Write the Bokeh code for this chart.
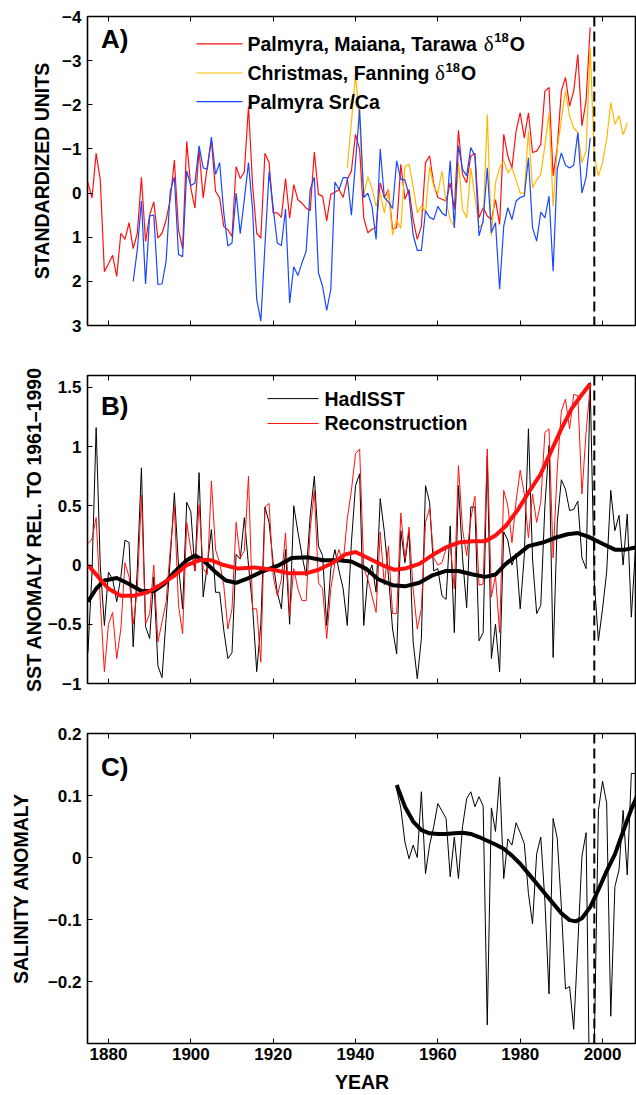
from bokeh.plotting import figure
from bokeh.models import Range1d, FixedTicker, LinearAxis, Span, Label
from bokeh.layouts import column
from bokeh.embed import file_html
from bokeh.resources import INLINE

# ---------------- data ----------------
x_ticks = [1880, 1900, 1920, 1940, 1960, 1980, 2000]
year_label = "YEAR"

# Panel A (standardized units, axis reversed)
red_a_start = 1875
red_a = [
    -0.24, 0.11, -0.9, -0.3, 1.78,
    1.6, 1.41, 1.89, 0.91, 1.05,
    0.67, 1.26, 0.91, -0.36, 1.1,
    0.5, 0.2, 1.02, 0.91, 0.61,
    0.15, -0.75, 0.83, 1.26, -1.17,
    -0.11, 0.34, -0.98, 0.11, -0.6,
    -1.2, -0.04, 0.11, 0.76, 0.83,
    0.98, -0.6, -0.33, -0.48, -1.96,
    -0.19, 0.91, 1.02, -0.9, -0.69,
    0.45, 0.45, 0.55, -0.33, 0.57,
    -0.19, 0.15, 0.23, 0.34, 0.4,
    -0.93, 0.03, 0.07, 0.63, 0.03,
    -0.02, -0.08, 0.1, -0.31, -0.5,
    -1.33, -0.99, 0.56, 0.9, 0.82,
    0.78, -0.23, 0.1, -0.08, 0.82,
    0.78, -0.65, 0.14, -0.08, 0.6,
    1.05, 0.75, -0.69, -0.84, -0.2,
    0.1, 0.14, 0.18, -0.23, 0.37,
    -1.42, -0.42, -0.23, -0.84, -0.9,
    0.56, 0.33, 0.52, 0.6, 0.15,
    0.71, -1.33, -0.84, -0.57, -1.4,
    -1.82, -1.25, -1.82, -0.92, -0.95,
    -1.1, -2.31, -2.39, -0.39, -1.03,
    -2.31, -2.62, -1.97, -2.31, -3.14,
    -1.52, -2.09, -3.75,
]
yellow_a_start = 1938
yellow_a = [
    -0.57, -1.6,
    -2.7, -1.6, 0.05, -0.37, -0.1,
    0.3, 0.0, 0.45, -0.07, 0.95,
    0.6, 0.8, -0.6, -0.65, -0.15,
    0.45, 0.3, 0.42, -0.6, -0.15,
    0.0, -0.5, 0.2, 0.6, 0.75,
    -0.7, 0.37, 0.56, -0.57, 0.1,
    0.79, 0.67, -1.78, 0.97, -0.23,
    -0.57, -0.73, -0.46, -0.57, -0.3,
    0.0, 0.0, -1.4, -0.12, -0.3,
    -0.42, -1.07, -1.82, 0.3, -0.99,
    -1.67, -2.31, -1.74, -1.48, -1.37,
    -0.69, -0.95, -3.3, -0.84, -0.39,
    -0.69, -1.22, -2.05, -1.56, -1.75,
    -1.32, -1.58,
]
blue_a_start = 1886
blue_a = [
    2.0, 1.28, 0.18, 2.06,
    0.52, 0.5, 2.07, 2.06, 1.54,
    -0.05, -0.36, 1.39, 1.44, -0.5,
    -0.17, -0.23, -1.07, -0.57, -0.54,
    -1.27, -0.42, -0.69, 0.45, 1.2,
    1.13, 0.0, 0.92, 0.14, -0.69,
    0.37, 2.41, 2.9, 1.2, -0.48,
    0.33, 1.13, 1.19, 0.36, 2.49,
    1.67, 1.87, 1.58, 1.32, -0.08,
    -0.36, 1.81, 2.11, 2.66, 2.18,
    -0.25, -0.08, -0.35, -0.35, 0.5,
    -0.7, -1.9, 0.1, 0.0, 0.3,
    1.05, -1.0, 0.1, 0.2, 0.35,
    -0.73, -0.31, -0.3, 0.05, 0.95,
    1.3, 1.3, 0.4, 0.55, 0.6,
    0.3, 0.45, 0.52, -0.73, 0.79,
    -1.07, -0.54, -0.39, -1.03, -0.84,
    0.97, 0.63, -0.57, 0.9, 0.67,
    2.18, 0.75, 0.33, 0.6, 0.18,
    0.1, 0.07, -0.8, 0.79, 1.09,
    0.43, 0.56, 0.07, 1.77, -0.54,
    -0.91, -0.63, -0.57, -0.63, -1.37,
    0.0, -0.35, -1.25,
]
a_ticks = [-4, -3, -2, -1, 0, 1, 2, 3]
a_labels = ["\u22124", "\u22123", "\u22122", "\u22121", "0", "1", "2", "3"]
a_legend = ["Palmyra, Maiana, Tarawa ", "Christmas, Fanning ", "Palmyra Sr/Ca"]
a_legend_delta = [True, True, False]

# Panel B (SST anomaly)
had_start = 1875
hadisst = [
    -0.74, -0.06, 1.16, 0.0, -0.51,
    -0.06, -0.12, -0.31, -0.1, 0.21,
    0.19, -0.69, -0.03, 0.82, -0.52,
    -0.62, -0.1, -0.85, -0.95, -0.45,
    0.05, 0.61, 0.0, -0.37, 0.53,
    0.45, -0.05, 0.78, -0.27, 0.0,
    0.3, -0.23, -0.23, -0.55, -0.79,
    -0.74, 0.09, 0.05, 0.4, 0.0,
    -0.35, -0.9, -0.5, 0.49, 0.36,
    0.02, -0.23, -0.37, 0.13, -0.5,
    0.5, 0.28, 0.08, -0.09, 0.42,
    0.75, 0.16, 0.08, -0.51, -0.03,
    0.13, -0.05, -0.2, -0.51, 0.19,
    0.67, 0.77, -0.51, -0.09, 0.0,
    -0.23, 0.56, 0.28, -0.09, -0.54,
    -0.75, 0.29, 0.02, 0.28, -0.65,
    -0.96, -0.62, 0.67, 0.53, -0.05,
    -0.03, -0.26, -0.29, 0.33, -0.57,
    0.67, 0.06, -0.36, 0.49, 0.49,
    -0.64, -0.57, 0.92, -0.79, -0.5,
    -0.9, 0.28, 0.21, 0.0, 0.1,
    -0.37, 0.08, 1.15, 0.05, -0.41,
    -0.34, 0.5, 1.01, -0.78, 0.36,
    0.72, 0.64, 0.46, 0.47, 0.54,
    0.06, -0.03, 1.54, -0.14, -0.64,
    -0.37, -0.06, 0.63, 0.29, 0.42,
    0.0, 0.43, -0.44, 0.14,
]
rec_start = 1875
recon = [
    0.18, 0.22, 0.4, -0.3, -0.9,
    -0.5, -0.4, -0.79, -0.54, 0.02,
    -0.1, -0.5, -0.2, 0.59, -0.5,
    -0.41, 0.0, -0.65, -0.48, -0.31,
    0.13, 0.5, -0.34, -0.58, 0.36,
    0.13, -0.05, 0.51, -0.03, -0.08,
    0.71, 0.13, 0.02, -0.17, -0.54,
    -0.37, 0.36, 0.06, 0.12, 0.75,
    -0.37, -0.37, -0.82, 0.49, 0.52,
    -0.09, -0.26, -0.12, 0.27, -0.43,
    -0.03, -0.2, -0.3, -0.3, 0.3,
    0.63, -0.15, -0.2, -0.62, -0.2,
    0.02, 0.13, 0.02, 0.39, 0.63,
    0.94, 0.98, -0.03, -0.12, -0.26,
    -0.4, 0.28, -0.17, 0.16, -0.41,
    -0.41, 0.44, 0.05, 0.32, -0.2,
    -0.54, -0.37, 0.36, 0.48, 0.06,
    0.0, 0.02, 0.14, 0.18, -0.2,
    0.84, 0.3, 0.08, 0.39, 0.58,
    -0.17, -0.16, 0.98, -0.27, -0.09,
    -0.57, 0.63, 0.5, 0.19, 0.54,
    0.8, 0.6, 0.23, 0.6, 0.36,
    0.53, 1.12, 1.15, 0.06, 0.81,
    1.3, 1.4, 1.15, 1.44, 1.43,
    0.6, 1.12, 1.51,
]
had_smooth_years = [1875, 1877, 1879, 1882, 1885, 1888, 1891, 1893.5, 1896, 1899,
                    1901, 1903, 1906, 1908.5, 1911, 1914, 1917, 1920, 1921.5, 1924.5,
                    1928.5, 1932, 1936, 1939, 1942.5, 1945.5, 1949, 1952, 1955.5, 1958.5,
                    1962, 1965, 1968.5, 1971.5, 1974, 1976.5, 1979.5, 1982, 1985.5, 1988.5,
                    1991.5, 1994, 1996.5, 2000, 2003, 2005.5, 2008.3]
had_smooth = [-0.31, -0.2, -0.13, -0.11, -0.16, -0.22, -0.22, -0.16, -0.06, 0.04,
              0.08, 0.04, -0.06, -0.13, -0.15, -0.11, -0.06, -0.02, 0.0, 0.06,
              0.065, 0.04, 0.04, 0.03, -0.03, -0.12, -0.17, -0.18, -0.15, -0.09,
              -0.05, -0.05, -0.08, -0.1, -0.08, 0.01, 0.09, 0.16, 0.19, 0.23,
              0.26, 0.27, 0.24, 0.18, 0.13, 0.13, 0.15]
rec_smooth_years = [1875, 1877.5, 1880, 1883, 1886, 1889.5, 1892.5, 1896, 1899, 1902.5,
                    1905, 1908, 1911.5, 1915.5, 1920, 1924, 1928, 1931, 1934.5, 1937.5,
                    1940, 1943, 1946.5, 1949.5, 1952, 1955.5, 1958.5, 1962, 1965, 1968.5,
                    1971.5, 1974, 1976.5, 1979.5, 1982, 1985, 1987.5, 1990, 1992.5, 1995,
                    1997]
rec_smooth = [0.0, -0.1, -0.2, -0.26, -0.26, -0.23, -0.17, -0.09, 0.0, 0.045,
              0.04, 0.0, -0.03, -0.02, -0.04, -0.07, -0.07, -0.04, 0.02, 0.09,
              0.11, 0.06, 0.0, -0.04, -0.03, 0.01, 0.08, 0.15, 0.19, 0.2,
              0.2, 0.25, 0.33, 0.47, 0.61, 0.77, 0.96, 1.15, 1.32, 1.44,
              1.53]
b_ticks = [-1, -0.5, 0, 0.5, 1, 1.5]
b_labels = ["\u22121", "\u22120.5", "0", "0.5", "1", "1.5"]
b_legend = ["HadISST", "Reconstruction"]

# Panel C (salinity anomaly)
sal_start = 1950
salinity = [
    0.11, 0.08, 0.025, -0.002, 0.02,
    0.0, 0.106, -0.026, 0.02, 0.05,
    0.087, 0.075, 0.063, -0.031, 0.033,
    -0.034, 0.05, 0.095, 0.106, 0.082,
    0.098, 0.083, -0.27, 0.08, 0.042,
    0.13, -0.034, 0.03, 0.02, 0.056,
    0.04, 0.022, -0.058, -0.107, 0.006,
    0.033, -0.07, -0.22, 0.063, 0.031,
    -0.08, -0.212, -0.208, -0.277, -0.14,
    0.002, 0.04, -0.45, -0.3, 0.076,
    0.123, 0.088, -0.256, -0.047, -0.02,
    0.076, -0.028, 0.136, 0.135,
]
sal_smooth_years = [1950, 1952, 1954, 1956, 1958, 1960, 1962, 1964, 1966, 1968,
                    1970, 1972, 1974, 1976, 1978, 1980, 1982, 1984, 1986, 1988,
                    1990, 1992, 1993.5, 1995, 1997, 1999, 2001, 2003, 2005, 2007, 2008.3]
sal_smooth = [0.117, 0.082, 0.058, 0.044, 0.039, 0.038, 0.038, 0.039, 0.04, 0.038,
              0.033, 0.027, 0.021, 0.014, 0.003, -0.01, -0.026, -0.042, -0.058, -0.074,
              -0.09, -0.101, -0.103, -0.098, -0.08, -0.052, -0.022, 0.005, 0.042, 0.078, 0.098]
c_ticks = [-0.2, -0.1, 0, 0.1, 0.2]
c_labels = ["\u22120.2", "\u22120.1", "0", "0.1", "0.2"]

cutoff_year = 1998

# ---------------- style ----------------
FONT = "Liberation Sans"
SERIF = "Liberation Serif"
RED = "#ff1010"
YEL = "#ffb800"
BLUE = "#1748ff"
X0, X1 = 1874.9, 2008.25
FRAME_W = 549
PX_PER_YEAR = FRAME_W / (X1 - X0)
LEG_SIZE = 19.5
AX_SIZE = "19.5px"

# Arial/Liberation Sans Bold advance widths (per 1000 em) for legend layout
BOLD_W = {"P": 667, "a": 556, "l": 278, "m": 889, "y": 556, "r": 389, ",": 278, " ": 278,
          "M": 833, "i": 278, "n": 611, "T": 611, "w": 778, "C": 722, "h": 611, "s": 556,
          "t": 333, "F": 611, "g": 611, "S": 667, "/": 278}


def text_px(s, size):
    return sum(BOLD_W.get(ch, 600) for ch in s) * size / 1000.0


def yrs(start, vals):
    return list(range(start, start + len(vals)))


def make_fig(height, top, bottom, yr, yticks, ylabels, ylabel, show_x, ylab_standoff):
    p = figure(width=636, height=height, output_backend="svg", toolbar_location=None,
               x_range=Range1d(X0, X1), y_range=yr,
               min_border_left=87, min_border_right=0,
               min_border_top=top, min_border_bottom=bottom)
    p.xgrid.visible = False
    p.ygrid.visible = False
    p.outline_line_color = "black"
    p.outline_line_width = 1.6
    p.background_fill_color = "white"
    p.border_fill_color = "white"

    xa = p.xaxis[0]
    xa.ticker = FixedTicker(ticks=x_ticks)
    xa.major_tick_in = 5
    xa.major_tick_out = 0
    xa.minor_tick_line_color = None
    xa.axis_line_color = None
    xa.major_tick_line_color = "black"
    if show_x:
        xa.major_label_text_font = FONT
        xa.major_label_text_font_size = "17px"
        xa.major_label_text_font_style = "bold"
        xa.major_label_text_color = "black"
        xa.major_label_standoff = 4
        xa.axis_label = year_label
        xa.axis_label_text_font = FONT
        xa.axis_label_text_font_size = AX_SIZE
        xa.axis_label_text_font_style = "bold"
        xa.axis_label_text_color = "black"
        xa.axis_label_standoff = 8
    else:
        xa.major_label_overrides = {t: "" for t in x_ticks}
        xa.major_label_text_font_size = "0px"
        xa.major_label_standoff = 0

    top_ax = LinearAxis(ticker=FixedTicker(ticks=x_ticks),
                        major_label_overrides={t: "" for t in x_ticks},
                        major_label_text_font_size="0px", major_label_standoff=0,
                        major_tick_in=5, major_tick_out=0,
                        minor_tick_line_color=None, axis_line_color=None)
    p.add_layout(top_ax, "above")

    ya = p.yaxis[0]
    ya.ticker = FixedTicker(ticks=yticks)
    ya.major_label_overrides = dict(zip(yticks, ylabels))
    ya.major_tick_in = 5
    ya.major_tick_out = 0
    ya.minor_tick_line_color = None
    ya.axis_line_color = None
    ya.major_label_text_font = FONT
    ya.major_label_text_font_size = "17px"
    ya.major_label_text_font_style = "bold"
    ya.major_label_text_color = "black"
    ya.major_label_standoff = 6
    ya.axis_label = ylabel
    ya.axis_label_text_font = FONT
    ya.axis_label_text_font_size = AX_SIZE
    ya.axis_label_text_font_style = "bold"
    ya.axis_label_text_color = "black"
    ya.axis_label_standoff = ylab_standoff

    p.add_layout(Span(location=cutoff_year, dimension="height", line_color="black",
                      line_width=2, line_dash="10 5"))
    return p


def panel_label(p, text, y):
    p.add_layout(Label(x=1878.2, y=y, text=text, text_font=FONT, text_font_size="26px",
                       text_font_style="bold", text_baseline="middle", text_align="left",
                       text_color="black"))


def px_to_x(px):
    return X0 + px / PX_PER_YEAR


def add_text(p, px, y, text, font=FONT, size=LEG_SIZE, style="bold", y_off=0):
    p.add_layout(Label(x=px_to_x(px), y=y, y_offset=y_off, text=text, text_font=font,
                       text_font_size=f"{size}px", text_font_style=style,
                       text_baseline="middle", text_align="left", text_color="black"))


def legend_entry(p, text, color, width, y, x_px, glyph_px, standoff_px, delta=False):
    # legend sample line and text, x positions given as pixel offsets from frame left
    p.line([px_to_x(x_px), px_to_x(x_px + glyph_px)], [y, y], line_color=color,
           line_width=width)
    tx = x_px + glyph_px + standoff_px
    add_text(p, tx, y, text)
    if delta:
        dx = tx + text_px(text, LEG_SIZE)
        add_text(p, dx, y, "\u03b4", font=SERIF, size=21, style="normal", y_off=0)
        add_text(p, dx + 10.5, y, "18", size=13, y_off=6)
        add_text(p, dx + 26, y, "O")


# Panel A
pa = make_fig(350, 16, 25, Range1d(3, -4), a_ticks, a_labels, "STANDARDIZED UNITS", False, 6)
pa.line(yrs(red_a_start, red_a), red_a, line_color=RED, line_width=1.2)
pa.line(yrs(yellow_a_start, yellow_a), yellow_a, line_color=YEL, line_width=1.2)
pa.line(yrs(blue_a_start, blue_a), blue_a, line_color=BLUE, line_width=1.2)
for txt, col, yv, dl in zip(a_legend, [RED, YEL, BLUE], [-3.38, -2.72, -2.07], a_legend_delta):
    legend_entry(pa, txt, col, 1.2, yv, 109, 46, 5, dl)
panel_label(pa, "A)", -3.49)

# Panel B
pb = make_fig(358, 25, 25, Range1d(-1, 1.6), b_ticks, b_labels,
              "SST ANOMALY REL. TO 1961\u20131990", False, 0)
pb.line(yrs(had_start, hadisst), hadisst, line_color="black", line_width=1)
pb.line(yrs(rec_start, recon), recon, line_color=RED, line_width=1)
pb.line(had_smooth_years, had_smooth, line_color="black", line_width=4)
pb.line(rec_smooth_years, rec_smooth, line_color=RED, line_width=4)
for txt, col, yv in zip(b_legend, ["black", RED], [1.405, 1.195]):
    legend_entry(pb, txt, col, 1, yv, 180, 51, 6)
panel_label(pb, "B)", 1.34)

# Panel C
pc = make_fig(387, 25, 52, Range1d(-0.3, 0.2), c_ticks, c_labels, "SALINITY ANOMALY", True, 13)
pc.line(yrs(sal_start, salinity), salinity, line_color="black", line_width=1)
pc.line(sal_smooth_years, sal_smooth, line_color="black", line_width=4)
panel_label(pc, "C)", 0.146)

layout = column(pa, pb, pc, spacing=0)
open("out.html", "w").write(file_html(layout, INLINE))
